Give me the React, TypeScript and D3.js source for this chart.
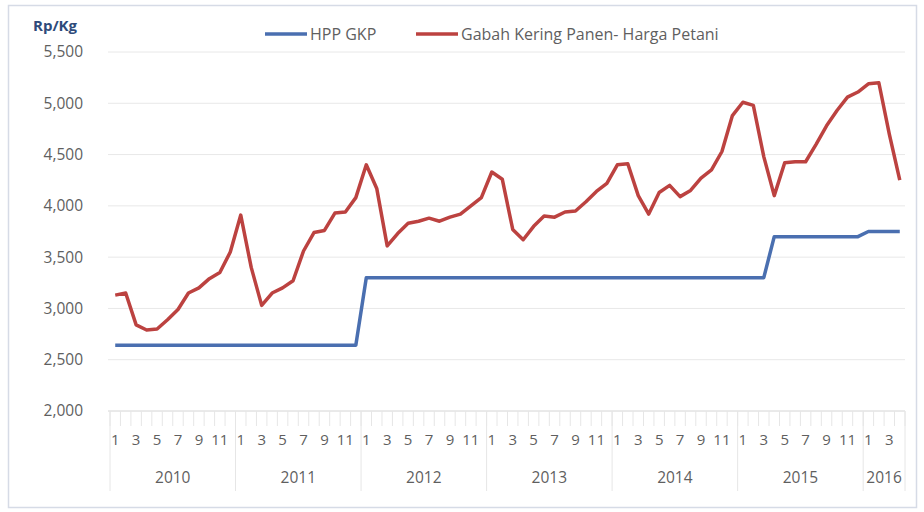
import React from "react";
import * as d3 from "d3";

const years = ["2010", "2011", "2012", "2013", "2014", "2015", "2016"];
const monthsPerYear = [12, 12, 12, 12, 12, 12, 4];
const yTicks = [2000, 2500, 3000, 3500, 4000, 4500, 5000, 5500];

const hppGkp = [
  2640, 2640, 2640, 2640, 2640, 2640, 2640, 2640, 2640, 2640, 2640, 2640,
  2640, 2640, 2640, 2640, 2640, 2640, 2640, 2640, 2640, 2640, 2640, 2640,
  3300, 3300, 3300, 3300, 3300, 3300, 3300, 3300, 3300, 3300, 3300, 3300,
  3300, 3300, 3300, 3300, 3300, 3300, 3300, 3300, 3300, 3300, 3300, 3300,
  3300, 3300, 3300, 3300, 3300, 3300, 3300, 3300, 3300, 3300, 3300, 3300,
  3300, 3300, 3300, 3700, 3700, 3700, 3700, 3700, 3700, 3700, 3700, 3700,
  3750, 3750, 3750, 3750,
];

const gkpPetani = [
  3130, 3150, 2840, 2790, 2800, 2890, 2990, 3150, 3200, 3290, 3350, 3550,
  3910, 3400, 3030, 3150, 3200, 3270, 3560, 3740, 3760, 3930, 3940, 4080,
  4400, 4170, 3610, 3730, 3830, 3850, 3880, 3850, 3890, 3920, 4000, 4080,
  4330, 4260, 3770, 3670, 3800, 3900, 3890, 3940, 3950, 4040, 4140, 4220,
  4400, 4410, 4100, 3920, 4130, 4200, 4090, 4150, 4270, 4350, 4530, 4880,
  5010, 4980, 4480, 4100, 4420, 4430, 4430, 4600, 4780, 4930, 5060, 5110,
  5190, 5200, 4700, 4250,
];

const W = 924;
const H = 512;
const left = 110;
const right = 905;
const top = 52;
const bottom = 411;
const font = "'Open Sans', sans-serif";
const textColor = "#5f5f5f";
const blue = "#4a6fb0";
const red = "#bc4240";

export default function App() {
  const n = d3.sum(monthsPerYear);
  const idx = d3.range(n);
  const x = d3.scaleBand<number>().domain(idx).range([left, right]).padding(0);
  const y = d3.scaleLinear().domain([2000, 5500]).range([bottom, top]);
  const cx = (i: number) => (x(i) as number) + x.bandwidth() / 2;

  const line = d3
    .line<number>()
    .x((_, i) => cx(i))
    .y((d) => y(d));

  const monthLabels: { i: number; label: string }[] = [];
  const yearInfo: { start: number; end: number; label: string }[] = [];
  let k = 0;
  years.forEach((yr, yi) => {
    const start = k;
    for (let m = 1; m <= monthsPerYear[yi]; m++) {
      if (m % 2 === 1) monthLabels.push({ i: k, label: String(m) });
      k++;
    }
    yearInfo.push({ start, end: k, label: yr });
  });

  const edge = (i: number) => (i >= n ? right : (x(i) as number));

  return (
    <svg width={W} height={H} style={{ position: "absolute", left: 0, top: 0 }}>
      <rect x={0} y={0} width={W} height={H} fill="#ffffff" />
      <rect x={8.5} y={5.5} width={908} height={502} fill="none" stroke="#d6dbe6" strokeWidth={1.5} />

      {/* grid */}
      {yTicks.map((t) => (
        <line key={t} x1={left - 2} x2={right} y1={y(t)} y2={y(t)} stroke={t === 2000 ? "#d4d4d4" : "#e8e8e8"} strokeWidth={1} />
      ))}
      {yTicks.map((t) => (
        <text key={"l" + t} x={83} y={y(t)} dy="0.35em" textAnchor="end" fontFamily={font} fontSize={15.5} fill={textColor}>
          {d3.format(",")(t)}
        </text>
      ))}
      <text x={33} y={31} fontFamily={font} fontSize={15} fontWeight="bold" fill="#2e4a7a">
        Rp/Kg
      </text>

      {/* month ticks */}
      {d3.range(n + 1).map((i) => (
        <line key={"t" + i} x1={edge(i)} x2={edge(i)} y1={bottom} y2={bottom + 15} stroke="#e6e6e6" strokeWidth={1} />
      ))}
      {yearInfo.map((yi) => (
        <line key={"s" + yi.label} x1={edge(yi.start)} x2={edge(yi.start)} y1={bottom} y2={bottom + 80} stroke="#e6e6e6" strokeWidth={1} />
      ))}
      <line x1={right} x2={right} y1={bottom} y2={bottom + 80} stroke="#e6e6e6" strokeWidth={1} />
      {monthLabels.map((m) => (
        <text key={"m" + m.i} x={cx(m.i)} y={440} dy="0.35em" textAnchor="middle" fontFamily={font} fontSize={15} fill={textColor}>
          {m.label}
        </text>
      ))}
      {yearInfo.map((yi) => (
        <text key={"y" + yi.label} x={(edge(yi.start) + edge(yi.end)) / 2} y={478} dy="0.35em" textAnchor="middle" fontFamily={font} fontSize={15.5} fill={textColor}>
          {yi.label}
        </text>
      ))}

      {/* lines */}
      <path d={line(hppGkp) || ""} fill="none" stroke={blue} strokeWidth={3.5} strokeLinejoin="round" />
      <path d={line(gkpPetani) || ""} fill="none" stroke={red} strokeWidth={3.5} strokeLinejoin="round" />

      {/* legend */}
      <line x1={265} x2={307} y1={34} y2={34} stroke={blue} strokeWidth={3.5} />
      <text x={310} y={34} dy="0.35em" fontFamily={font} fontSize={16} fill={textColor}>
        HPP GKP
      </text>
      <line x1={416} x2={458} y1={34} y2={34} stroke={red} strokeWidth={3.5} />
      <text x={461} y={34} dy="0.35em" fontFamily={font} fontSize={16} fill={textColor}>
        Gabah Kering Panen- Harga Petani
      </text>
    </svg>
  );
}
